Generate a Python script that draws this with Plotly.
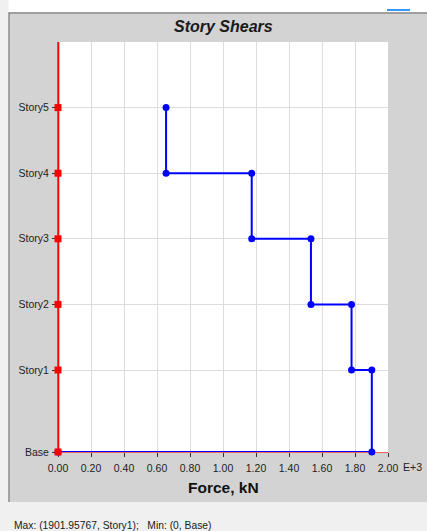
import plotly.graph_objects as go

# ---- data ----
stories = ["Base", "Story1", "Story2", "Story3", "Story4", "Story5"]
elevations = [0, 5, 9, 13, 17, 21]
story_shear = [None, 1901.95767, 1779, 1533, 1174, 655]  # shear acting below each story level
x_ticks = [0, 200, 400, 600, 800, 1000, 1200, 1400, 1600, 1800, 2000]
x_tick_text = ["0.00", "0.20", "0.40", "0.60", "0.80", "1.00", "1.20", "1.40", "1.60", "1.80", "2.00"]
title_text = "Story Shears"
x_title = "Force, kN"
status_text = "Max: (1901.95767, Story1);   Min: (0, Base)"

# ---- build step line from story shears (top story down to base) ----
sx, sy = [], []
for i in range(len(stories) - 1, 0, -1):
    sx += [story_shear[i], story_shear[i]]
    sy += [elevations[i], elevations[i - 1]]
sx.append(0)
sy.append(elevations[0])

W, H = 427, 531
L, R, T, B = 58, 388, 42, 452


def px(x):
    return (x - L) / (R - L)


def py(y):
    return (B - y) / (B - T)


fig = go.Figure()
fig.add_trace(go.Scatter(
    x=sx, y=sy, mode="lines+markers",
    line=dict(color="#0000ff", width=2),
    marker=dict(color="#0000ff", size=7, symbol="circle"),
    hoverinfo="skip", showlegend=False, cliponaxis=False,
))
fig.add_trace(go.Scatter(
    x=[0] * len(elevations), y=elevations, mode="lines+markers",
    line=dict(color="#ff0000", width=2),
    marker=dict(color="#ff0000", size=7, symbol="square"),
    hoverinfo="skip", showlegend=False, cliponaxis=False,
))

font = "Liberation Sans, Arial, sans-serif"

shapes = [
    dict(type="rect", xref="paper", yref="paper", x0=px(0), x1=px(W), y0=py(0), y1=py(12),
         fillcolor="#ffffff", line=dict(width=0), layer="below"),
    dict(type="rect", xref="paper", yref="paper", x0=px(0), x1=px(8.5), y0=py(0), y1=py(502),
         fillcolor="#f0f0f0", line=dict(width=0), layer="below"),
    dict(type="rect", xref="paper", yref="paper", x0=px(0), x1=px(W), y0=py(502), y1=py(H),
         fillcolor="#f0f0f0", line=dict(width=0), layer="below"),
    dict(type="line", xref="paper", yref="paper", x0=px(9), x1=px(9), y0=py(12.5), y1=py(502),
         line=dict(color="#6a6a6a", width=1), layer="below"),
    dict(type="line", xref="paper", yref="paper", x0=px(9), x1=px(W), y0=py(13), y1=py(13),
         line=dict(color="#6a6a6a", width=1), layer="below"),
    dict(type="line", xref="paper", yref="paper", x0=px(387), x1=px(410), y0=py(10), y1=py(10),
         line=dict(color="#3399ff", width=2), layer="below"),
    # red vertical axis line at zero force (paper-referenced so it is not clipped)
    dict(type="line", xref="paper", yref="paper", x0=px(58.3), x1=px(58.3), y0=0, y1=1,
         line=dict(color="#ff0000", width=2), layer="above"),
]

annotations = [
    dict(text="<b><i>" + title_text + "</i></b>", xref="paper", yref="paper",
         x=px(223), y=py(27), xanchor="center", yanchor="middle", showarrow=False,
         font=dict(family=font, size=16, color="#1a1a1a")),
    dict(text="<b>" + x_title + "</b>", xref="paper", yref="paper",
         x=px(223), y=py(487), xanchor="center", yanchor="middle", showarrow=False,
         font=dict(family=font, size=15.5, color="#111111")),
    dict(text="E+3", xref="paper", yref="paper",
         x=px(401), y=py(466.5), xanchor="left", yanchor="middle", showarrow=False,
         font=dict(family=font, size=10.5, color="#222222")),
    dict(text=status_text, xref="paper", yref="paper",
         x=px(12), y=py(525), xanchor="left", yanchor="middle", showarrow=False,
         font=dict(family=font, size=10.3, color="#1a1a1a")),
]

fig.update_layout(
    width=W, height=H,
    margin=dict(l=L, r=W - R, t=T, b=H - B, pad=0),
    paper_bgcolor="#d3d3d3",
    plot_bgcolor="#ffffff",
    shapes=shapes,
    annotations=annotations,
    xaxis=dict(
        range=[0, 2000], tickvals=x_ticks, ticktext=x_tick_text,
        showgrid=True, gridcolor="#dcdcdc", gridwidth=1,
        zeroline=False, showline=True, linecolor="#ff6060", linewidth=1,
        ticks="outside", ticklen=4, tickcolor="#333333", tickwidth=1,
        tickfont=dict(family=font, size=10.5, color="#222222"),
        ticklabelstandoff=2,
        layer="below traces", fixedrange=True,
    ),
    yaxis=dict(
        range=[0, 25], tickvals=elevations, ticktext=stories,
        showgrid=True, gridcolor="#dcdcdc", gridwidth=1,
        zeroline=False, showline=False,
        ticks="outside", ticklen=5, tickcolor="#333333", tickwidth=1,
        tickfont=dict(family=font, size=10.5, color="#222222"),
        ticklabelstandoff=1,
        layer="below traces", fixedrange=True,
    ),
)

fig.write_html("out.html", config={"displayModeBar": False},
               post_script="document.body.style.margin='0';document.body.style.overflow='hidden';")
